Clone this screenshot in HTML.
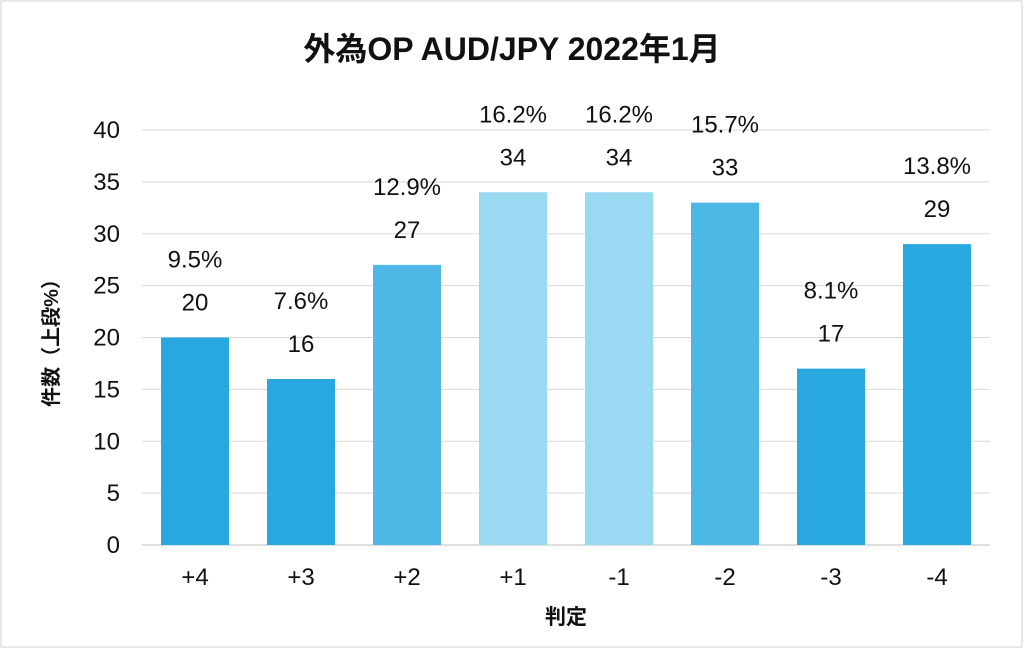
<!DOCTYPE html>
<html><head><meta charset="utf-8"><style>
body{margin:0;background:#fff;}
svg{display:block;font-family:"Liberation Sans","Noto Sans CJK JP",sans-serif;}
</style></head><body>
<svg width="1024" height="649" viewBox="0 0 1024 649">
<rect x="1" y="1" width="1021" height="646" fill="#fff" stroke="#d0d0d0" stroke-width="1"/>
<text x="512" y="60" text-anchor="middle" font-size="32" font-weight="bold" fill="#111">外為OP AUD/JPY 2022年1月</text>
<g id="grid"></g>
<g id="bars"></g>
<text transform="translate(58,338) rotate(-90)" text-anchor="middle" font-size="20" font-weight="bold" fill="#111">件数（上段%）</text>
<text x="566" y="624" text-anchor="middle" font-size="21" font-weight="bold" fill="#111">判定</text>
</svg>
<script>
const categories=["+4","+3","+2","+1","-1","-2","-3","-4"];
const counts=[20,16,27,34,34,33,17,29];
const percents=["9.5%","7.6%","12.9%","16.2%","16.2%","15.7%","8.1%","13.8%"];
const yTicks=[0,5,10,15,20,25,30,35,40];
const colors=["#29a8e0","#29a8e0","#4db8e6","#99d9f2","#99d9f2","#4db8e6","#29a8e0","#29a8e0"];
const NS="http://www.w3.org/2000/svg";
const x0=142,x1=990,yBase=545,yTop=130,yMax=40;
const y=v=>yBase-(v/yMax)*(yBase-yTop);
const band=(x1-x0)/categories.length;
const xc=i=>x0+band*(i+0.5);
const g=document.getElementById('grid'),b=document.getElementById('bars');
function mk(tag,attrs,parent){const e=document.createElementNS(NS,tag);for(const k in attrs)e.setAttribute(k,attrs[k]);parent.appendChild(e);return e;}
yTicks.forEach(t=>{
 const l=mk('line',{x1:x0,x2:x1,y1:y(t),y2:y(t),stroke:t===0?'#bfbfbf':'#d9d9d9','stroke-width':1},g);
 
 
 const tx=mk('text',{x:120,y:y(t)+8,'text-anchor':'end','font-size':24,fill:'#111'},g);
 tx.textContent=t;
 
 
});
categories.forEach((c,i)=>{
 const w=68,v=counts[i];
 const r=mk('rect',{x:xc(i)-w/2,y:y(v),width:w,height:yBase-y(v),fill:colors[i]},b);
 
 
 const vl=mk('text',{x:xc(i),y:y(v)-27,'text-anchor':'middle','font-size':24,fill:'#111'},b);
 vl.textContent=v;
 
 
 const pl=mk('text',{x:xc(i),y:y(v)-70,'text-anchor':'middle','font-size':24,fill:'#111'},b);
 pl.textContent=percents[i];
 
 
 const xl=mk('text',{x:xc(i),y:585,'text-anchor':'middle','font-size':24,fill:'#111'},b);
 xl.textContent=c;
 
 
});
</script>
</body></html>
